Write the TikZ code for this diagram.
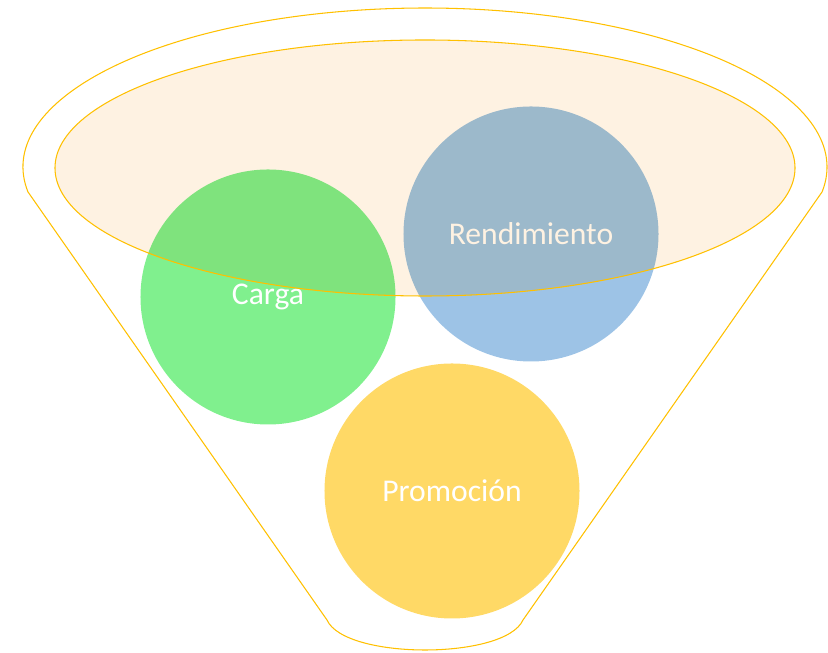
\documentclass[tikz,border=0pt]{standalone}
\usepackage{fontspec}
\setmainfont{Carlito}

\definecolor{funnelgold}{HTML}{FFC000}
\definecolor{rimfill}{HTML}{FEF2E2}
\definecolor{cargagreen}{HTML}{80F08E}
\definecolor{rendblue}{HTML}{9DC3E6}
\definecolor{promogold}{HTML}{FFD966}

\tikzset{
	ball/.style = {circle, minimum size = 7.65cm, inner sep = 0pt, text = white,
		font = \fontsize{27}{32}\selectfont},
	edge/.style = {funnelgold, line width = 0.9pt, line join = round}
}

\begin{document}
\begin{tikzpicture}[x = 0.03cm, y = 0.03cm]
		\useasboundingbox (0,0) rectangle (828,653);
		% funnel body
		\draw[edge] (27.95,461.1) arc[start angle = 189, end angle = -9, x radius = 12.06cm, y radius = 4.77cm]
			-- (523,33) .. controls (505,-7) and (345,-7) .. (327,33) -- cycle;
		% the three balls
		\node[ball, fill = cargagreen] (carga) at (268,356) {Carga};
		\node[ball, fill = rendblue] (rendimiento) at (531,419) {Rendimiento};
		\node[ball, fill = promogold] (promocion) at (452,162) {Promoción};
		% rim of the funnel
		\fill[rimfill, blend mode = multiply] (425,485) ellipse [x radius = 11.1cm, y radius = 3.84cm];
		\draw[edge] (425,485) ellipse [x radius = 11.1cm, y radius = 3.84cm];
	\end{tikzpicture}
\end{document}
